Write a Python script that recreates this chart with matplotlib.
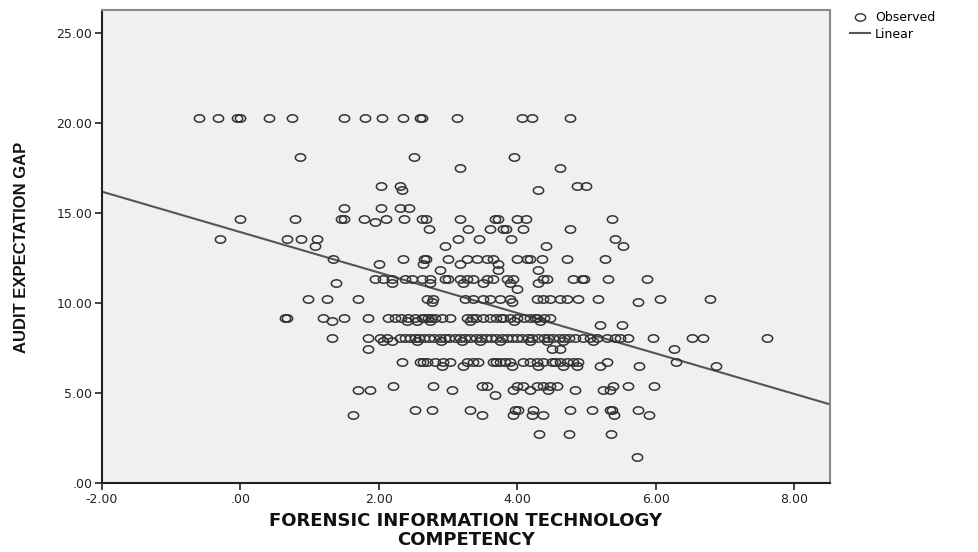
import numpy as np
import matplotlib
matplotlib.use("Agg")
import matplotlib.pyplot as plt
from matplotlib.path import Path
from matplotlib.ticker import FuncFormatter, FixedLocator
from matplotlib.lines import Line2D

# ---- data: observed points grouped by (approximate) y level ----
rows = {
    20.3: [-0.60, -0.33, -0.05, 0.00, 0.42, 0.74, 1.50, 1.80, 2.05, 2.35, 2.59, 2.63, 3.13, 4.07, 4.22, 4.77],
    18.1: [0.86, 2.51, 3.96],
    17.5: [3.18, 4.62],
    16.5: [2.03, 2.30, 4.86, 4.99],
    16.3: [2.33, 4.30],
    15.3: [1.50, 2.03, 2.30, 2.44],
    14.7: [0.00, 0.79, 1.45, 1.50, 1.79, 2.10, 2.36, 2.62, 2.68, 3.17, 3.68, 3.72, 3.99, 4.12, 5.37],
    14.5: [1.94],
    14.15: [2.73, 3.29, 3.61, 3.80, 3.84, 4.09, 4.77],
    13.55: [-0.30, 0.68, 0.88, 1.10, 3.15, 3.45, 3.91, 5.41],
    13.15: [1.08, 2.95, 4.41, 5.53],
    12.45: [1.34, 2.35, 2.65, 2.68, 3.00, 3.27, 3.42, 3.56, 3.65, 4.00, 4.14, 4.18, 4.36, 4.72, 5.27],
    12.2: [2.00, 2.64, 3.17, 3.72],
    11.85: [2.88, 3.72, 4.30],
    11.35: [1.94, 2.06, 2.19, 2.38, 2.48, 2.62, 2.74, 2.96, 3.00, 3.17, 3.27, 3.36, 3.56, 3.65, 3.85,
            3.94, 4.37, 4.43, 4.80, 4.94, 4.96, 5.31, 5.88],
    11.1: [1.38, 2.19, 2.74, 3.22, 3.50, 3.90, 4.30],
    10.8: [4.00],
    10.22: [0.98, 1.25, 1.70, 2.70, 2.78, 3.25, 3.36, 3.50, 3.60, 3.75, 3.90, 4.29, 4.37, 4.47,
            4.62, 4.72, 4.88, 5.17, 6.06, 6.79],
    10.05: [2.77, 3.92, 5.74],
    9.15: [0.65, 0.67, 1.19, 1.50, 1.84, 2.13, 2.23, 2.32, 2.42, 2.52, 2.62, 2.66, 2.71, 2.76, 2.81,
           2.91, 3.03, 3.27, 3.34, 3.41, 3.51, 3.60, 3.70, 3.76, 3.80, 3.90, 4.00, 4.10, 4.19, 4.25,
           4.29, 4.38, 4.47],
    9.0: [1.33, 2.41, 2.55, 2.74, 3.32, 3.95, 4.33],
    8.8: [5.20, 5.51],
    8.05: [1.33, 1.84, 2.02, 2.12, 2.30, 2.38, 2.45, 2.52, 2.58, 2.65, 2.72, 2.80, 2.88, 2.95, 3.02,
           3.10, 3.18, 3.25, 3.32, 3.40, 3.47, 3.55, 3.62, 3.70, 3.78, 3.85, 3.92, 4.00, 4.07, 4.15,
           4.22, 4.30, 4.38, 4.45, 4.52, 4.60, 4.67, 4.75, 4.84, 4.95, 5.05, 5.15, 5.30, 5.41, 5.49,
           5.60, 5.96, 6.53, 6.69, 7.61],
    7.9: [2.06, 2.19, 2.55, 2.90, 3.20, 3.46, 3.75, 4.18, 4.43, 4.66, 5.10],
    7.45: [1.84, 4.50, 4.62, 6.27],
    6.75: [2.34, 2.60, 2.64, 2.70, 2.81, 2.93, 3.03, 3.27, 3.36, 3.43, 3.65, 3.70, 3.75, 3.82, 3.90,
           4.08, 4.18, 4.29, 4.37, 4.50, 4.55, 4.62, 4.72, 4.80, 4.88, 5.30, 6.29],
    6.5: [2.91, 3.22, 3.92, 4.30, 4.66, 4.86, 5.20, 5.76, 6.87],
    5.4: [2.21, 2.78, 3.49, 3.56, 4.00, 4.08, 4.29, 4.37, 4.47, 4.57, 5.38, 5.60, 5.98],
    5.15: [1.70, 1.87, 3.06, 3.94, 4.18, 4.45, 4.84, 5.24, 5.34],
    4.9: [3.68],
    4.05: [2.52, 2.77, 3.32, 3.97, 4.01, 4.23, 4.76, 5.08, 5.34, 5.37, 5.75],
    3.8: [1.63, 3.49, 3.94, 4.22, 4.37, 5.40, 5.90],
    2.75: [4.32, 4.75, 5.36],
    1.45: [5.73],
}

fit_intercept = 13.95
fit_slope = -1.124

x_ticks = [-2, 0, 2, 4, 6, 8]
y_ticks = [0, 5, 10, 15, 20, 25]
x_label_lines = ["FORENSIC INFORMATION TECHNOLOGY", "COMPETENCY"]
y_label = "AUDIT EXPECTATION GAP"
legend_labels = ["Observed", "Linear"]

obs_x = np.concatenate([np.array(v, float) for v in rows.values()])
obs_y = np.concatenate([np.full(len(v), k) for k, v in rows.items()])

# ---- figure ----
fig = plt.figure(figsize=(9.79, 5.52), dpi=100)
ax = fig.add_axes([102/979, (552-483)/552, (830-102)/979, (483-10)/552])
ax.set_facecolor("#f0f0f0")

circ = Path.unit_circle()
ell = Path(circ.vertices * np.array([1.0, 0.72]), circ.codes)

ax.plot(obs_x, obs_y, linestyle="none", marker=ell, markersize=7.4,
        markerfacecolor="none", markeredgecolor="#333333", markeredgewidth=1.1, zorder=3)

xl = np.array([-2.0, 8.52])
ax.plot(xl, fit_intercept + fit_slope * xl, color="#555555", lw=1.5, zorder=2)

ax.set_xlim(-2.0, 8.52)
ax.set_ylim(0, 26.3)
ax.xaxis.set_major_locator(FixedLocator(x_ticks))
ax.yaxis.set_major_locator(FixedLocator(y_ticks))

def fmt(v, pos):
    s = f"{v:.2f}"
    if s.startswith("0."):
        s = s[1:]
    return s

ax.xaxis.set_major_formatter(FuncFormatter(fmt))
ax.yaxis.set_major_formatter(FuncFormatter(fmt))
ax.tick_params(axis="both", direction="out", length=5, width=1.2, color="#222222",
               labelsize=9, labelcolor="#222222", pad=2)
for lab in ax.get_xticklabels() + ax.get_yticklabels():
    lab.set_family("DejaVu Sans")

for s in ["left", "bottom"]:
    ax.spines[s].set_color("#222222")
    ax.spines[s].set_linewidth(1.5)
for s in ["top", "right"]:
    ax.spines[s].set_color("#8a8a8a")
    ax.spines[s].set_linewidth(1.5)

for i, line in enumerate(x_label_lines):
    fig.text(466/979, 1 - (521 + 19 * i)/552, line, ha="center", va="center",
             fontsize=13, fontweight="bold", family="DejaVu Sans", color="#111111")
fig.text(22/979, 1 - 247/552, y_label, ha="center", va="center", rotation=90,
         fontsize=12, fontweight="bold", family="Liberation Sans", color="#111111")

handles = [Line2D([], [], linestyle="none", marker=ell, markersize=7.4, markerfacecolor="none",
                  markeredgecolor="#333333", markeredgewidth=1.0),
           Line2D([], [], color="#555555", lw=1.5)]
fig.legend(handles, legend_labels, loc="upper left", bbox_to_anchor=(845/979, 1 - 6/552),
           frameon=False, handlelength=1.6, handletextpad=0.4,
           labelspacing=0.3, borderaxespad=0, prop={"family": "DejaVu Sans", "size": 9})

fig.savefig("out.png", dpi=100)
